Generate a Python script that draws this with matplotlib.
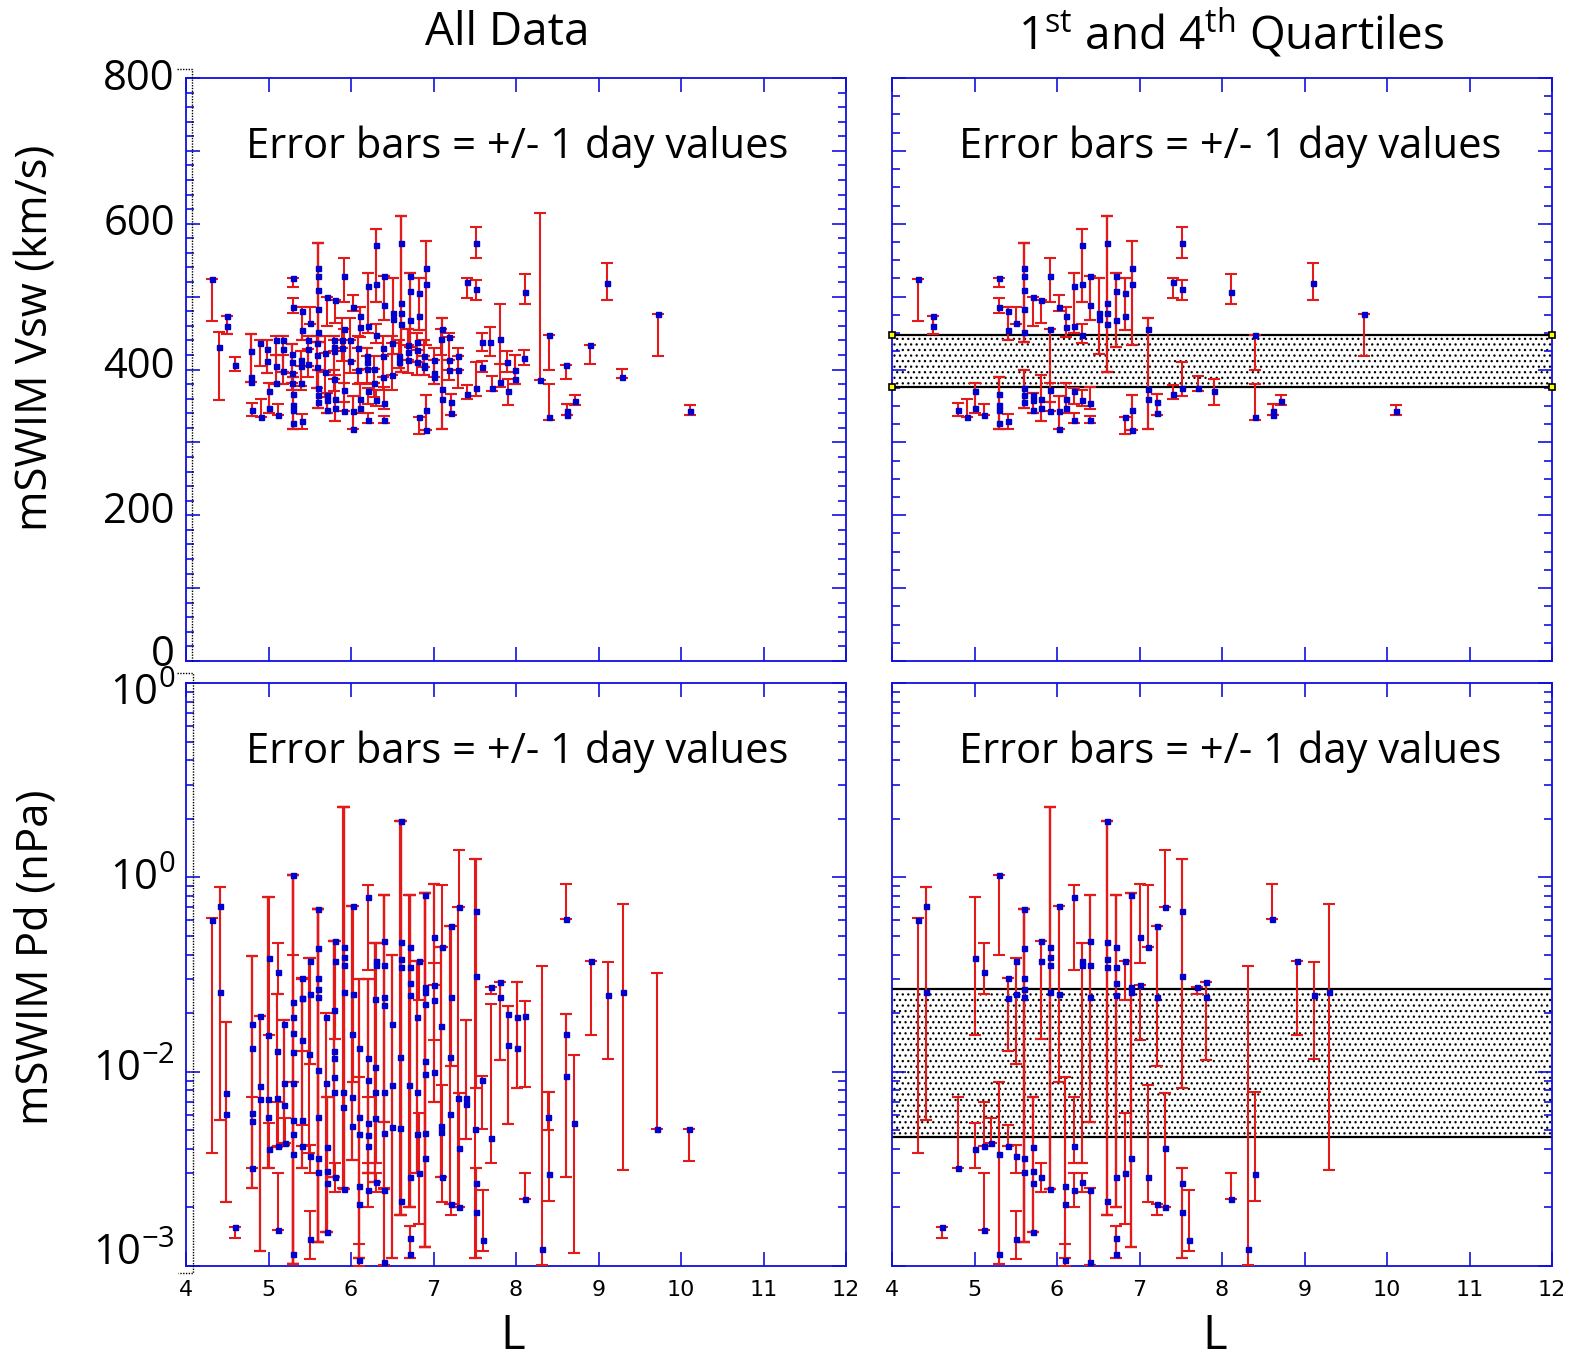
import matplotlib as mpl
mpl.use('agg')
import matplotlib.pyplot as plt
from matplotlib.lines import Line2D
from matplotlib.ticker import MultipleLocator, LogLocator, NullFormatter
import numpy as np

# ---- solar wind speed, points in 1st/4th quartiles (shown in both panels)
vq_L = [4.31,
        4.50, 4.50,
        4.80, 4.91, 5.01, 5.01, 5.11,
        5.30, 5.30, 5.30, 5.30, 5.30, 5.30,
        5.41, 5.41, 5.41, 5.50,
        5.60, 5.60, 5.60, 5.60, 5.60, 5.60, 5.60, 5.60,
        5.71, 5.71, 5.71, 5.71,
        5.80, 5.80, 5.80,
        5.91, 5.91, 5.91, 5.91,
        6.02, 6.02, 6.02,
        6.11, 6.11, 6.11, 6.11,
        6.21, 6.21, 6.21, 6.21,
        6.30, 6.30, 6.30, 6.30,
        6.40, 6.40, 6.40, 6.40,
        6.51, 6.51,
        6.60, 6.60, 6.60, 6.60,
        6.71, 6.71, 6.71,
        6.82, 6.82, 6.82,
        6.91, 6.91, 6.91, 6.91,
        7.10, 7.10, 7.10,
        7.21, 7.21,
        7.40, 7.40,
        7.51, 7.51, 7.51,
        7.71, 7.90, 8.11,
        8.40, 8.40, 8.62, 8.62, 8.71,
        9.10, 9.72, 10.11]
vq_v = [524,
        474, 460,
        345, 335, 371, 347, 338,
        526, 486, 367, 351, 345, 327,
        480, 454, 329, 464,
        539, 528, 509, 483, 452, 375, 365, 356,
        500, 365, 358, 345,
        496, 359, 347,
        528, 456, 372, 343,
        486, 343, 319,
        474, 458, 360, 347,
        515, 460, 370, 331,
        571, 517, 447, 358,
        528, 489, 354, 331,
        478, 469,
        573, 491, 477, 462,
        528, 508, 468,
        505, 474, 335,
        539, 517, 345, 317,
        455, 373, 359,
        355, 340,
        520, 367,
        573, 510, 375,
        375, 370, 507,
        448, 335, 343, 338, 357,
        519, 476, 343]
vq_lo = [466,
         449, 449,
         336, 335, 340, 340, 338,
         513, 478, 319, 319, 319, 319,
         440, 440, 319, 463,
         438, 438, 438, 438, 438, 347, 347, 347,
         460, 340, 340, 340,
         464, 329, 329,
         492, 381, 355, 343,
         480, 319, 319,
         445, 445, 340, 340,
         450, 450, 352, 327,
         493, 493, 436, 350,
         468, 468, 346, 327,
         421, 421,
         396, 396, 396, 396,
         431, 431, 431,
         454, 454, 311,
         434, 434, 317, 317,
         319, 319, 319,
         338, 338,
         498, 359,
         553, 496, 364,
         371, 351, 490,
         399, 331, 338, 338, 351,
         496, 418, 337]
vq_hi = [524,
         474, 474,
         354, 360, 381, 381, 352,
         526, 498, 390, 390, 390, 390,
         486, 486, 339, 486,
         573, 573, 573, 573, 573, 399, 399, 399,
         500, 368, 368, 368,
         496, 392, 392,
         553, 456, 381, 355,
         502, 363, 363,
         486, 486, 381, 381,
         533, 533, 375, 340,
         593, 593, 462, 372,
         528, 528, 376, 336,
         526, 526,
         610, 610, 610, 610,
         532, 532, 532,
         526, 526, 335,
         577, 577, 365, 365,
         470, 470, 470,
         367, 367,
         526, 379,
         595, 523, 410,
         391, 387, 531,
         448, 380, 353, 353, 365,
         546, 476, 351]

# ---- solar wind speed, points between the quartiles (all-data panel only)
vm_L = [4.40, 4.59,
        4.79, 4.79, 4.79,
        4.90, 4.98, 4.98,
        5.09, 5.09, 5.09,
        5.18, 5.18, 5.18,
        5.29, 5.29, 5.29, 5.29,
        5.39, 5.39, 5.39,
        5.48, 5.48, 5.48,
        5.59, 5.59, 5.59,
        5.69, 5.69,
        5.79, 5.79, 5.79, 5.79,
        5.89, 5.89,
        5.99, 5.99,
        6.09, 6.09,
        6.19, 6.19, 6.19,
        6.28, 6.28,
        6.39, 6.39, 6.39,
        6.50, 6.50,
        6.58, 6.58,
        6.69, 6.69, 6.69,
        6.80, 6.80, 6.80,
        6.89, 6.89, 6.89,
        7.00, 7.00, 7.00,
        7.09,
        7.19, 7.19, 7.19,
        7.30, 7.30,
        7.59, 7.59, 7.69,
        7.80, 7.80, 7.89,
        7.99, 7.99, 8.10, 8.29,
        8.60, 8.90, 9.29]
vm_v = [431, 406,
        426, 390, 383,
        436, 428, 412,
        441, 405, 382,
        441, 428, 398,
        421, 410, 395, 381,
        413, 405, 381,
        441, 428, 408,
        436, 420, 404,
        422, 397,
        441, 431, 426, 387,
        441, 430,
        441, 412,
        430, 399,
        418, 410, 401,
        401, 382,
        429, 418, 390,
        436, 392,
        418, 410,
        434, 424, 413,
        438, 427, 410,
        418, 406, 403,
        413, 395, 390,
        442,
        444, 413, 399,
        418, 399,
        438, 404, 438,
        442, 383, 410,
        399, 387, 416, 386,
        406, 434, 390]
vm_lo = [358, 398,
         383, 383, 383,
         405, 395, 395,
         420, 380, 380,
         397, 397, 380,
         381, 381, 381, 372,
         377, 377, 372,
         405, 405, 390,
         375, 375, 375,
         397, 362,
         426, 400, 387, 370,
         430, 412,
         412, 395,
         399, 380,
         401, 401, 380,
         382, 362,
         390, 390, 372,
         392, 372,
         402, 402,
         413, 413, 395,
         410, 410, 392,
         403, 392, 392,
         390, 380, 380,
         420,
         413, 399, 385,
         399, 375,
         426, 396, 418,
         408, 376, 396,
         380, 380, 406, 386,
         387, 408, 389]
vm_hi = [452, 417,
         449, 449, 449,
         441, 441, 441,
         446, 420, 420,
         446, 446, 420,
         435, 435, 435, 395,
         425, 425, 405,
         446, 446, 428,
         446, 446, 446,
         446, 422,
         446, 446, 441, 400,
         471, 441,
         470, 441,
         446, 430,
         430, 430, 418,
         418, 401,
         446, 446, 418,
         446, 436,
         440, 440,
         455, 455, 434,
         450, 450, 427,
         440, 418, 418,
         430, 413, 413,
         456,
         450, 444, 413,
         430, 418,
         450, 411, 459,
         490, 408, 425,
         420, 420, 427, 615,
         406, 434, 401]

# ---- dynamic pressure, points in 1st/4th quartiles
pq_L = [4.31,
        4.41, 4.41,
        4.60, 4.80,
        5.00, 5.00,
        5.11, 5.11, 5.11,
        5.20,
        5.30, 5.30, 5.30,
        5.41, 5.41, 5.41,
        5.50, 5.50, 5.50, 5.50,
        5.60, 5.60, 5.60, 5.60, 5.60, 5.60, 5.60,
        5.71, 5.71, 5.71, 5.71,
        5.80, 5.80, 5.80,
        5.91, 5.91, 5.91, 5.91, 5.91,
        6.02, 6.02,
        6.10, 6.10, 6.10,
        6.21, 6.21, 6.21,
        6.30, 6.30, 6.30,
        6.40, 6.40, 6.40, 6.40, 6.40,
        6.60, 6.60, 6.60, 6.60, 6.60,
        6.71, 6.71, 6.71, 6.71, 6.71, 6.71, 6.71,
        6.82, 6.82,
        6.90, 6.90, 6.90, 6.90,
        7.01, 7.01,
        7.10, 7.10,
        7.21, 7.21, 7.21,
        7.31, 7.31, 7.31,
        7.51, 7.51, 7.51, 7.51,
        7.60, 7.70,
        7.81, 7.81,
        8.11, 8.31, 8.40, 8.61,
        8.91, 9.11, 9.30]
pq_p = [0.0601,
        0.0714, 0.0257,
        0.00159, 0.00318,
        0.0383, 0.00398,
        0.0327, 0.00414, 0.00153,
        0.00428,
        0.103, 0.00378, 0.00115,
        0.0305, 0.0238, 0.00414,
        0.0370, 0.0252, 0.00366, 0.00138,
        0.0690, 0.0433, 0.0305, 0.0266, 0.0242, 0.00360, 0.00306,
        0.00410, 0.00308, 0.00267, 0.00149,
        0.0472, 0.0370, 0.00287,
        0.0440, 0.0391, 0.0356, 0.0257, 0.00250,
        0.0714, 0.0252,
        0.00258, 0.00208, 0.00108,
        0.0796, 0.00414, 0.00246,
        0.0370, 0.0356, 0.00269,
        0.0472, 0.0352, 0.0243, 0.00246, 0.00105,
        0.196, 0.0463, 0.0382, 0.0344, 0.00217,
        0.0440, 0.0344, 0.0285, 0.0248, 0.00287, 0.00140, 0.00115,
        0.0370, 0.00302,
        0.0807, 0.0274, 0.0258, 0.00360,
        0.0495, 0.0279,
        0.0440, 0.00287,
        0.0562, 0.0243, 0.00209,
        0.0703, 0.00406, 0.00200,
        0.0668, 0.0310, 0.00267, 0.00189,
        0.00136, 0.0274,
        0.0289, 0.0243,
        0.00221, 0.00122, 0.00297, 0.0611,
        0.0370, 0.0248, 0.0257]
pq_lo = [0.00380,
         0.00564, 0.00564,
         0.00139, 0.00318,
         0.0155, 0.00318,
         0.0251, 0.00414, 0.00153,
         0.00428,
         0.0398, 0.00103, 0.00103,
         0.0128, 0.0128, 0.00414,
         0.0109, 0.0109, 0.00300, 0.00109,
         0.00133, 0.00133, 0.00133, 0.00133, 0.00133, 0.00133, 0.00133,
         0.00149, 0.00149, 0.00149, 0.00149,
         0.0147, 0.0147, 0.00240,
         0.00250, 0.00250, 0.00250, 0.00250, 0.00250,
         0.00887, 0.00887,
         0.00110, 0.00110, 0.00100,
         0.0333, 0.00340, 0.00200,
         0.00340, 0.00340, 0.00240,
         0.00553, 0.00553, 0.00553, 0.00101, 0.00101,
         0.00183, 0.00183, 0.00183, 0.00183, 0.00183,
         0.00200, 0.00200, 0.00200, 0.00200, 0.00200, 0.00110, 0.00110,
         0.0234, 0.00164,
         0.00125, 0.00125, 0.00125, 0.00125,
         0.0364, 0.0146,
         0.0440, 0.00214,
         0.0107, 0.0107, 0.00183,
         0.0703, 0.00200, 0.00200,
         0.00820, 0.00820, 0.00110, 0.00110,
         0.00119, 0.0252,
         0.0115, 0.0115,
         0.00221, 0.00101, 0.00217, 0.0611,
         0.0155, 0.0116, 0.00312]
pq_hi = [0.0615,
         0.0895, 0.0895,
         0.00159, 0.00743,
         0.0796, 0.00547,
         0.0461, 0.00695, 0.00302,
         0.00575,
         0.103, 0.00889, 0.00889,
         0.0305, 0.0305, 0.00532,
         0.0383, 0.0383, 0.00420, 0.00191,
         0.0690, 0.0690, 0.0690, 0.0690, 0.0690, 0.0690, 0.0690,
         0.00743, 0.00743, 0.00743, 0.00743,
         0.0472, 0.0472, 0.00340,
         0.229, 0.229, 0.229, 0.229, 0.229,
         0.0714, 0.0714,
         0.00942, 0.00942, 0.00130,
         0.0914, 0.00743, 0.00300,
         0.0461, 0.0461, 0.00300,
         0.0813, 0.0813, 0.0813, 0.00251, 0.00251,
         0.196, 0.196, 0.196, 0.196, 0.196,
         0.0813, 0.0813, 0.0813, 0.0813, 0.0813, 0.00160, 0.00160,
         0.0370, 0.00615,
         0.0828, 0.0828, 0.0828, 0.0828,
         0.0925, 0.0279,
         0.0914, 0.00854,
         0.0562, 0.0562, 0.00209,
         0.138, 0.00774, 0.00774,
         0.125, 0.125, 0.00318, 0.00318,
         0.00246, 0.0274,
         0.0289, 0.0289,
         0.00302, 0.0351, 0.00783, 0.0925,
         0.0370, 0.0368, 0.0729]

# ---- dynamic pressure, points between the quartiles
pm_L = [4.49, 4.49,
        4.80, 4.80, 4.80, 4.80,
        4.90, 4.90, 4.90,
        4.99, 4.99, 4.99,
        5.10, 5.10,
        5.19, 5.19, 5.19,
        5.30, 5.30, 5.30, 5.30, 5.30, 5.30, 5.30,
        5.40, 5.40, 5.40,
        5.49, 5.60, 5.60,
        5.70, 5.70,
        5.79, 5.79, 5.79, 5.79, 5.79,
        5.90, 5.90,
        6.01, 6.01, 6.01,
        6.10, 6.10, 6.10,
        6.20, 6.20, 6.20, 6.20,
        6.29, 6.29, 6.29, 6.29,
        6.40, 6.40, 6.40,
        6.50, 6.50, 6.50,
        6.59, 6.59, 6.70,
        6.80, 6.80, 6.80,
        6.90, 6.90, 6.90, 6.90,
        7.00, 7.00,
        7.09, 7.09, 7.09,
        7.20, 7.20, 7.30,
        7.39, 7.39, 7.50,
        7.59, 7.70,
        7.90, 7.90, 8.01, 8.01,
        8.11, 8.39, 8.61, 8.61,
        8.70, 9.71, 10.10]
pm_p = [0.00774, 0.00608,
        0.0175, 0.0132, 0.00611, 0.00557,
        0.0194, 0.00844, 0.00723,
        0.0155, 0.00721, 0.00586,
        0.0128, 0.00735,
        0.0175, 0.00871, 0.00673,
        0.0228, 0.0192, 0.0159, 0.0126, 0.00871, 0.00564, 0.00476,
        0.0239, 0.0146, 0.00564,
        0.0124, 0.0102, 0.00586,
        0.0190, 0.00871,
        0.0208, 0.0128, 0.0117, 0.00935, 0.00789,
        0.00789, 0.00661,
        0.0157, 0.00743, 0.00527,
        0.0132, 0.00586, 0.00476,
        0.0117, 0.00906, 0.00542, 0.00471,
        0.0236, 0.0106, 0.00789, 0.00579,
        0.0220, 0.00782, 0.00482,
        0.0175, 0.00853, 0.00518,
        0.0119, 0.00511, 0.00853,
        0.0190, 0.00789, 0.00476,
        0.0223, 0.0113, 0.00968, 0.00482,
        0.0234, 0.0100,
        0.0172, 0.00527, 0.00491,
        0.0119, 0.00605, 0.00735,
        0.00735, 0.00684, 0.00507,
        0.00902, 0.00457,
        0.0197, 0.0137, 0.0190, 0.0133,
        0.0194, 0.00585, 0.0157, 0.00951,
        0.00546, 0.00509, 0.00509]
pm_lo = [0.00214, 0.00214,
         0.00251, 0.00251, 0.00251, 0.00251,
         0.00119, 0.00119, 0.00119,
         0.00318, 0.00318, 0.00318,
         0.00412, 0.00412,
         0.00420, 0.00420, 0.00420,
         0.00103, 0.00103, 0.00103, 0.00103, 0.00103, 0.00103, 0.00103,
         0.00320, 0.00320, 0.00320,
         0.00380, 0.00133, 0.00133,
         0.00149, 0.00149,
         0.00287, 0.00287, 0.00287, 0.00287, 0.00287,
         0.00251, 0.00251,
         0.00350, 0.00350, 0.00350,
         0.00110, 0.00110, 0.00110,
         0.00300, 0.00300, 0.00300, 0.00300,
         0.00269, 0.00269, 0.00269, 0.00269,
         0.00250, 0.00250, 0.00250,
         0.00110, 0.00110, 0.00110,
         0.00183, 0.00183, 0.00200,
         0.00302, 0.00302, 0.00302,
         0.00125, 0.00125, 0.00125, 0.00125,
         0.00700, 0.00700,
         0.00287, 0.00287, 0.00287,
         0.00209, 0.00209, 0.00200,
         0.00452, 0.00452, 0.00110,
         0.00504, 0.00339,
         0.00535, 0.00535, 0.00824, 0.00824,
         0.00830, 0.00500, 0.00288, 0.00288,
         0.00117, 0.00509, 0.00348]
pm_hi = [0.0181, 0.0181,
         0.0395, 0.0395, 0.0395, 0.0395,
         0.0194, 0.0194, 0.0194,
         0.0796, 0.0796, 0.0796,
         0.0250, 0.0250,
         0.0185, 0.0185, 0.0185,
         0.103, 0.103, 0.103, 0.103, 0.103, 0.103, 0.103,
         0.0300, 0.0300, 0.0300,
         0.0383, 0.0690, 0.0690,
         0.0200, 0.0200,
         0.0472, 0.0472, 0.0472, 0.0472, 0.0472,
         0.229, 0.229,
         0.0714, 0.0714, 0.0714,
         0.0300, 0.0300, 0.0300,
         0.0300, 0.0300, 0.0300, 0.0300,
         0.0461, 0.0461, 0.0461, 0.0461,
         0.0813, 0.0813, 0.0813,
         0.0400, 0.0400, 0.0400,
         0.196, 0.196, 0.0813,
         0.0370, 0.0370, 0.0370,
         0.0828, 0.0828, 0.0828, 0.0828,
         0.0925, 0.0925,
         0.0440, 0.0440, 0.0440,
         0.0562, 0.0562, 0.0703,
         0.0185, 0.0185, 0.125,
         0.00952, 0.0222,
         0.0218, 0.0218, 0.0289, 0.0289,
         0.0230, 0.00783, 0.0197, 0.0197,
         0.0122, 0.0321, 0.00509]

# quartile limits (shaded band)
vsw_band = [376, 447]
pd_band = [0.00461, 0.0267]

# y tick labels as printed on the figure
vsw_tick_vals = [0, 200, 400, 600, 800]
vsw_tick_text = ['0', '200', '400', '600', '800']
pd_tick_vals = [1e-3, 1e-2, 1e-1, 1e0]
pd_tick_text = [r'$\mathregular{10^{-3}}$', r'$\mathregular{10^{-2}}$',
                r'$\mathregular{10^{0}}$', r'$\mathregular{10^{0}}$']

BLUE = '#1010e0'
RED = '#e41a1a'
PT = '#0000cc'
FONT = 'Open Sans'

plt.rcParams['mathtext.fontset'] = 'custom'
plt.rcParams['mathtext.rm'] = FONT
plt.rcParams['mathtext.it'] = FONT + ':italic'
plt.rcParams['mathtext.bf'] = FONT + ':bold'
plt.rcParams['hatch.linewidth'] = 0.9

W, H = 1571, 1359


def draw_points(ax, L, val, lo, hi):
    L = np.asarray(L, dtype=float)
    val = np.asarray(val, dtype=float)
    lo = np.asarray(lo, dtype=float)
    hi = np.asarray(hi, dtype=float)
    yerr = [np.clip(val - lo, 0, None), np.clip(hi - val, 0, None)]
    ax.errorbar(L, val, yerr=yerr, fmt='none', ecolor=RED, elinewidth=1.5,
                capsize=4.2, capthick=1.5, zorder=3)
    ax.plot(L, val, 's', color=PT, ms=3.6, mec=PT, zorder=4)


def style_axes(ax, xlabels):
    for s in ax.spines.values():
        s.set_color(BLUE)
        s.set_linewidth(1.3)
    ax.set_xlim(4, 12)
    ax.xaxis.set_major_locator(MultipleLocator(1))
    ax.tick_params(axis='both', which='both', direction='in', color=BLUE,
                   top=True, right=True, width=1.2, labelleft=False)
    ax.tick_params(which='major', length=10)
    ax.tick_params(which='minor', length=6)
    ax.tick_params(axis='x', labelbottom=xlabels, labelsize=16, pad=10)


def y_labels(ax, vals, texts, drops):
    # drops: pixels from the tick down to the text baseline
    for v, s, d in zip(vals, texts, drops):
        ax.annotate(s, xy=(0, v), xycoords=('axes fraction', 'data'),
                    xytext=(-8, -d * 0.72), textcoords='offset points',
                    ha='right', va='baseline', fontsize=30, family=FONT,
                    annotation_clip=False)


def bracket(xs, ys):
    fig.add_artist(Line2D([x / W for x in xs], [1 - y / H for y in ys],
                          transform=fig.transFigure, ls=(0, (1, 1)),
                          color='black', lw=1.0))


fig = plt.figure(figsize=(15.71, 13.59), dpi=100)
fig.patch.set_facecolor('white')

xl, xr, wd = 186 / W, 892 / W, 660 / W
yt, yb, ht = 1 - 661 / H, 1 - 1266 / H, 583 / H
ax_tl = fig.add_axes([xl, yt, wd, ht])
ax_tr = fig.add_axes([xr, yt, wd, ht])
ax_bl = fig.add_axes([xl, yb, wd, ht])
ax_br = fig.add_axes([xr, yb, wd, ht])

# top row: Vsw
for ax, minor in ((ax_tl, 20), (ax_tr, 25)):
    style_axes(ax, False)
    ax.set_ylim(0, 800)
    ax.yaxis.set_major_locator(MultipleLocator(100))
    ax.yaxis.set_minor_locator(MultipleLocator(minor))

y_labels(ax_tl, vsw_tick_vals, vsw_tick_text, [5, 8, 9, 11, 12])
draw_points(ax_tl, vq_L + vm_L, vq_v + vm_v, vq_lo + vm_lo, vq_hi + vm_hi)

ax_tr.axhspan(vsw_band[0], vsw_band[1], facecolor='white', edgecolor='black',
              hatch='...', linewidth=0, zorder=1)
for q in vsw_band:
    ax_tr.axhline(q, color='black', lw=1.6, zorder=2)
draw_points(ax_tr, vq_L, vq_v, vq_lo, vq_hi)
ax_tr.plot([4, 12, 4, 12], [vsw_band[0], vsw_band[0], vsw_band[1], vsw_band[1]],
           's', ms=5, mfc='#ffff00', mec='black', mew=1.2, clip_on=False, zorder=6)

# bottom row: Pd
for ax in (ax_bl, ax_br):
    style_axes(ax, True)
    ax.set_yscale('log')
    ax.set_ylim(1e-3, 1e0)
    ax.yaxis.set_major_locator(LogLocator(base=10))
    ax.yaxis.set_minor_locator(LogLocator(base=10, subs=np.arange(2, 10)))
    ax.yaxis.set_minor_formatter(NullFormatter())
    ax.tick_params(axis='y', which='both', labelleft=False)
    for t in ax.get_xticklabels():
        t.set_family('DejaVu Sans')

y_labels(ax_bl, pd_tick_vals, pd_tick_text, [-1, 9, 13, 22])
draw_points(ax_bl, pq_L + pm_L, pq_p + pm_p, pq_lo + pm_lo, pq_hi + pm_hi)

ax_br.axhspan(pd_band[0], pd_band[1], facecolor='white', edgecolor='black',
              hatch='...', linewidth=0, zorder=1)
for q in pd_band:
    ax_br.axhline(q, color='black', lw=1.6, zorder=2)
draw_points(ax_br, pq_L, pq_p, pq_lo, pq_hi)

# panel annotations
for ax, xc in ((ax_tl, 0.502), (ax_tr, 0.512), (ax_bl, 0.502), (ax_br, 0.512)):
    ax.text(xc, 0.882, 'Error bars = +/- 1 day values', transform=ax.transAxes,
            ha='center', va='center', fontsize=30, family=FONT, zorder=7)

fig.text(507 / W, 1 - 33 / H, 'All Data', ha='center', va='center',
         fontsize=33, family=FONT)
fig.text(1231 / W, 1 - 33 / H, r'1$^{\mathrm{st}}$ and 4$^{\mathrm{th}}$ Quartiles',
         ha='center', va='center', fontsize=33, family=FONT)
fig.text(36 / W, 1 - 338 / H, 'mSWIM Vsw (km/s)', rotation=90, ha='center',
         va='center', fontsize=31.5, family=FONT)
fig.text(36 / W, 1 - 957 / H, 'mSWIM Pd (nPa)', rotation=90, ha='center',
         va='center', fontsize=31.5, family=FONT)
fig.text(513 / W, 1 - 1336 / H, 'L', ha='center', va='center', fontsize=34, family=FONT)
fig.text(1215 / W, 1 - 1336 / H, 'L', ha='center', va='center', fontsize=34, family=FONT)

# dotted selection outlines left over from the original figure
bracket([177, 192, 192], [69, 69, 661])
bracket([177, 193, 193, 178], [673, 673, 1273, 1273])

fig.savefig('out.png', dpi=100)
